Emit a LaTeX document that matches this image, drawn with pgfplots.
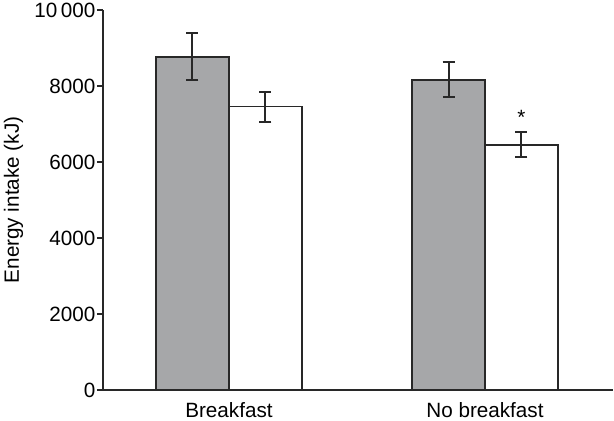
\documentclass[border=0pt]{standalone}
\usepackage{fontspec}
\setmainfont{Liberation Sans}
\usepackage{pgfplots}
\pgfplotsset{compat=1.18}
\definecolor{barfill}{RGB}{166,167,169}
\definecolor{ink}{RGB}{40,40,40}

\begin{document}
\begin{tikzpicture}[font=\fontsize{15.5}{18}\selectfont]
\begin{axis}[
  scale only axis, width=382.5pt, height=285pt,
  xmin=0.508, xmax=2.5, ymin=0, ymax=10000,
  axis lines=left, axis line style={-, ink, line width=1.2pt},
  ybar=0pt, bar width=0.285,
  xtick={1,2}, xticklabels={Breakfast, No breakfast},
  xtick style={draw=none},
  ytick={0,2000,4000,6000,8000,10000},
  yticklabels={0,2000,4000,6000,8000,10\,000},
  scaled y ticks=false,
  tick align=outside, major tick length=4.5pt,
  ytick style={ink, line width=1.2pt},
  yticklabel style={inner sep=1pt},
  xticklabel style={yshift=-1.5pt},
  ylabel={Energy intake (kJ)},
  ylabel style={at={(axis description cs:-0.1755,0.5)}, anchor=center},
  /pgf/number format/assume math mode=true,
  every error bar/.append style={ink, line width=1.5pt},
  clip=false,
]
% grey bars
\addplot[fill=barfill, draw=ink, line width=1.2pt,
  error bars/.cd, y dir=both, y explicit,
  error mark options={rotate=90, mark size=4.5pt, ink, line width=1.5pt}]
  coordinates {(1,8770) +- (0,615) (2,8160) +- (0,460)};
% white bars
\addplot[fill=white, draw=ink, line width=1.2pt,
  error bars/.cd, y dir=both, y explicit,
  error mark options={rotate=90, mark size=4.5pt, ink, line width=1.5pt}]
  coordinates {(1,7460) +- (0,395) (2,6450) +- (0,330)};
\node at (axis cs:2.1425,7180) {*};
\end{axis}
\pgfresetboundingbox
\path[use as bounding box] ([shift={(-77.25pt,-23.25pt)}]current axis.south west) rectangle ([shift={(383.25pt,292.5pt)}]current axis.south west);
\end{tikzpicture}
\end{document}
